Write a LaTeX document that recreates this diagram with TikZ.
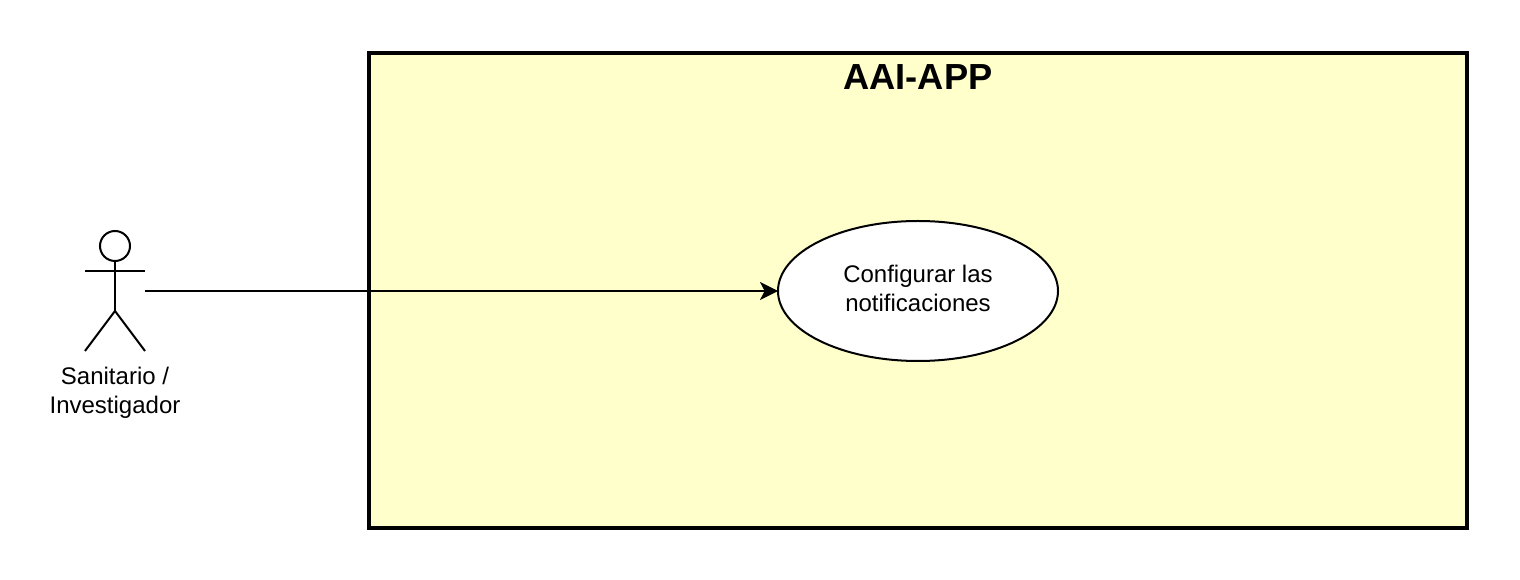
\documentclass[tikz,border=0pt]{standalone}
\usepackage{fontspec}
\setmainfont{Liberation Sans}
\definecolor{mypaleyellow}{RGB}{255,255,204}
\usetikzlibrary{arrows.meta,calc,positioning,shapes.geometric}
\tikzset{
    sysbox/.style={
        draw, rectangle, line width=3pt, fill=mypaleyellow,
        minimum width=823.5pt, minimum height=356.25pt, inner sep=0pt
    },
    usecase/.style={
        draw, ellipse, line width=1.5pt, fill=white, outer sep=0pt,
        minimum width=210pt, minimum height=105pt, inner sep=0pt
    },
    plaintext/.style={
        align=center, inner sep=0pt, font=\fontsize{18}{21.75}\selectfont
    },
    actorbox/.style={
        rectangle, outer sep=0pt, minimum width=45pt, minimum height=90pt, inner sep=0pt
    },
    actorhead/.style={
        draw, circle, line width=1.5pt, outer sep=0pt, minimum size=22.5pt, inner sep=0pt
    }
}

\begin{document}
\begin{tikzpicture}[
      x=0.75pt, y=-0.75pt,
      line width=1.5pt
      ]
\useasboundingbox (0,0) rectangle (1520,580);

\node[sysbox] (system) at (918,290.5) {};
\node[below=6pt of system.north, font=\fontsize{27.2}{32}\selectfont\bfseries] (title) {AAI-APP};

\node[usecase] (config) at (918,291) {};
\node[plaintext, yshift=2.25pt] (configtext) at (config) {Configurar las\\notificaciones};

% stick figure
\node[actorbox] (actor) at (115,291) {};
\node[actorhead, below=0pt of actor.north] (head) {};
\coordinate (hip) at ($(actor.south)+(0,30pt)$);
\draw (head.south) -- (hip);
\draw ($(actor.north west)+(0,-30pt)$) -- ($(actor.north east)+(0,-30pt)$);
\draw (actor.south west) -- (hip) -- (actor.south east);
\node[plaintext, below=11.5pt of actor.south] (actorname) {Sanitario /\\Investigador};

\draw[-{Stealth[length=13.5pt,width=13.5pt,inset=3.5pt]}] (actor.east) -- (config.west);

\end{tikzpicture}
\end{document}
